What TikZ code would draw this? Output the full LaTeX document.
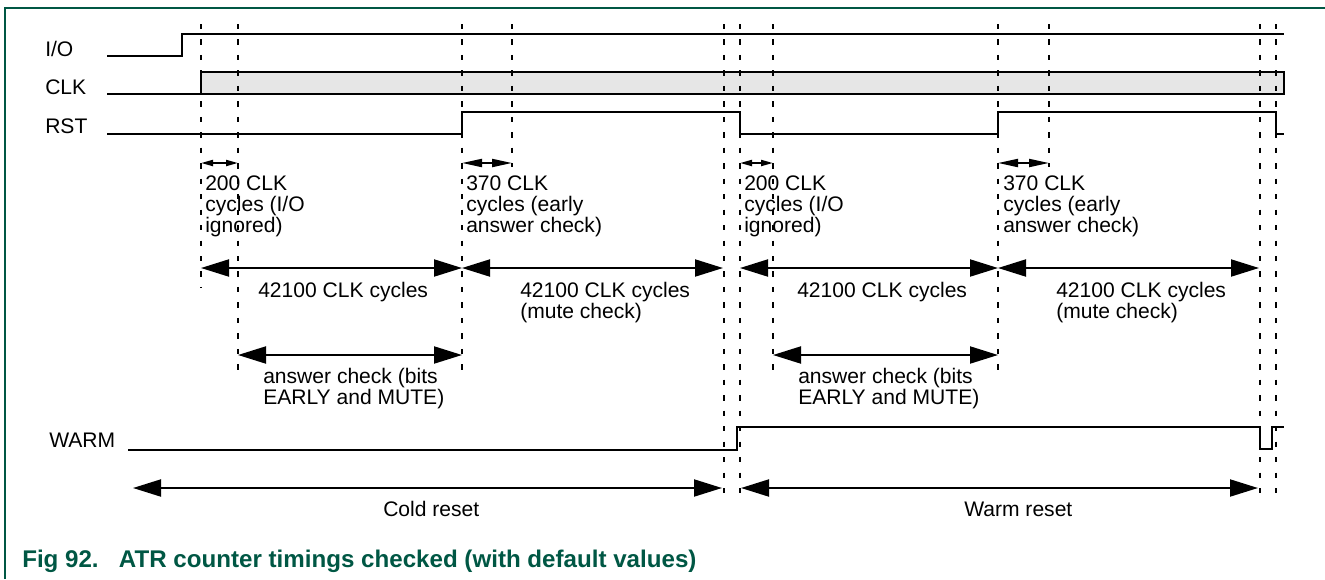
\documentclass[tikz,border=0pt]{standalone}
\usepackage{fontspec}
\setmainfont{Liberation Sans}
\usetikzlibrary{arrows.meta}
\definecolor{nxpgreen}{RGB}{0,87,68}
\definecolor{clkgray}{RGB}{230,230,230}
\begin{document}
\begin{tikzpicture}[x=0.75pt,y=-0.75pt,
  sig/.style={line width=1.7pt, line join=miter},
  guide/.style={line width=1.6pt, dash pattern=on 4pt off 7.6pt},
  bigarr/.style={line width=1.5pt, {Triangle[length=21pt,width=12.75pt]}-{Triangle[length=21pt,width=12.75pt]}},
  midarr/.style={line width=1.5pt, {Triangle[length=15pt,width=6pt]}-{Triangle[length=15pt,width=6pt]}},
  tinyarr/.style={line width=1.5pt, {Triangle[length=9pt,width=4.5pt]}-{Triangle[length=9pt,width=4.5pt]}},
  lbl/.style={anchor=base west, inner sep=0pt, font=\fontsize{15.8}{15.75}\selectfont, align=left},
  frameline/.style={line width=1.1pt, draw=nxpgreen}
]
\useasboundingbox (0,0) rectangle (1325,579);
% frame
\coordinate (fTR) at (1325,8);
\coordinate (fTL) at (5,8);
\coordinate (fBL) at (5,579);
\draw[frameline] (fTR) -- (fTL) -- (fBL);

% signal labels
\node[lbl] (lio) at (45,56) {I/O};
\node[lbl] (lclk) at (45,94) {CLK};
\node[lbl] (lrst) at (45,133) {RST};
\node[lbl] (lwarm) at (49,447) {WARM};

% signals
\draw[sig] (107,56) -- (182,56) -- (182,34) -- (1284,34);
\draw[sig, line width=2pt] (107,94) -- (395,94);
\draw[sig, fill=clkgray] (201,72) rectangle (1284,94);
\draw[sig] (107,134) -- (462,134) -- (462,112) -- (740,112) -- (740,134) -- (998,134)
  -- (998,112) -- (1276,112) -- (1276,134) -- (1284,134);
\draw[sig] (128,450) -- (737,450) -- (737,427) -- (1260,427) -- (1260,449) -- (1272,449)
  -- (1272,427) -- (1284,427);

% guide lines
\foreach \n/\x/\yb in {g0/201/287, g1/238/372, g2/462/372, g3/512/167, g4/724/497, g5/740/497,
                       g6/773/372, g7/998/372, g8/1049/167, g9/1260/497, g10/1276/497} {
  \coordinate (\n t) at (\x,24);
  \coordinate (\n b) at (\x,\yb);
  \draw[guide] (\n t) -- (\n b);
}

% arrow end points
\coordinate (s1a) at (201,163); \coordinate (s1b) at (238,163);
\coordinate (s2a) at (462,163); \coordinate (s2b) at (512,163);
\coordinate (s3a) at (740,163); \coordinate (s3b) at (773,163);
\coordinate (s4a) at (998,163); \coordinate (s4b) at (1049,163);
\coordinate (b1a) at (201,268); \coordinate (b1b) at (462,268);
\coordinate (b2a) at (462,268); \coordinate (b2b) at (723,268);
\coordinate (b3a) at (740,268); \coordinate (b3b) at (998,268);
\coordinate (b4a) at (998,268); \coordinate (b4b) at (1259,268);
\coordinate (c1a) at (238,355); \coordinate (c1b) at (462,355);
\coordinate (c2a) at (773,355); \coordinate (c2b) at (998,355);
\coordinate (r1a) at (133,488); \coordinate (r1b) at (722,488);
\coordinate (r2a) at (741,488); \coordinate (r2b) at (1258,488);

\draw[tinyarr] (s1a) -- (s1b);
\draw[midarr] (s2a) -- (s2b);
\draw[tinyarr] (s3a) -- (s3b);
\draw[midarr] (s4a) -- (s4b);
\draw[bigarr] (b1a) -- (b1b);
\draw[bigarr] (b2a) -- (b2b);
\draw[bigarr] (b3a) -- (b3b);
\draw[bigarr] (b4a) -- (b4b);
\draw[bigarr] (c1a) -- (c1b);
\draw[bigarr] (c2a) -- (c2b);
\draw[bigarr] (r1a) -- (r1b);
\draw[bigarr] (r2a) -- (r2b);

% texts (multi-line nodes: base anchor is the last line's baseline)
\node[lbl] (t200a) at (205,232) {200 CLK\\cycles (I/O\\ignored)};
\node[lbl] (t370a) at (466,232) {370 CLK\\cycles (early\\answer check)};
\node[lbl] (t200b) at (744,232) {200 CLK\\cycles (I/O\\ignored)};
\node[lbl] (t370b) at (1003,232) {370 CLK\\cycles (early\\answer check)};
\node[lbl] (tk1) at (258,297) {42100 CLK cycles};
\node[lbl] (tk2) at (520,318) {42100 CLK cycles\\(mute check)};
\node[lbl] (tk3) at (797,297) {42100 CLK cycles};
\node[lbl] (tk4) at (1056,318) {42100 CLK cycles\\(mute check)};
\node[lbl] (tac1) at (263,404) {answer check (bits\\EARLY and MUTE)};
\node[lbl] (tac2) at (798,404) {answer check (bits\\EARLY and MUTE)};
\node[lbl] (tcold) at (383,516) {Cold reset};
\node[lbl] (twarm) at (964,516) {Warm reset};

% caption
\node[anchor=base west, inner sep=0pt, text=nxpgreen, font=\fontsize{18.1}{20}\selectfont\bfseries]
  (cap) at (22,567) {Fig 92.\hspace{15.2pt}ATR counter timings checked (with default values)};
\end{tikzpicture}
\end{document}
